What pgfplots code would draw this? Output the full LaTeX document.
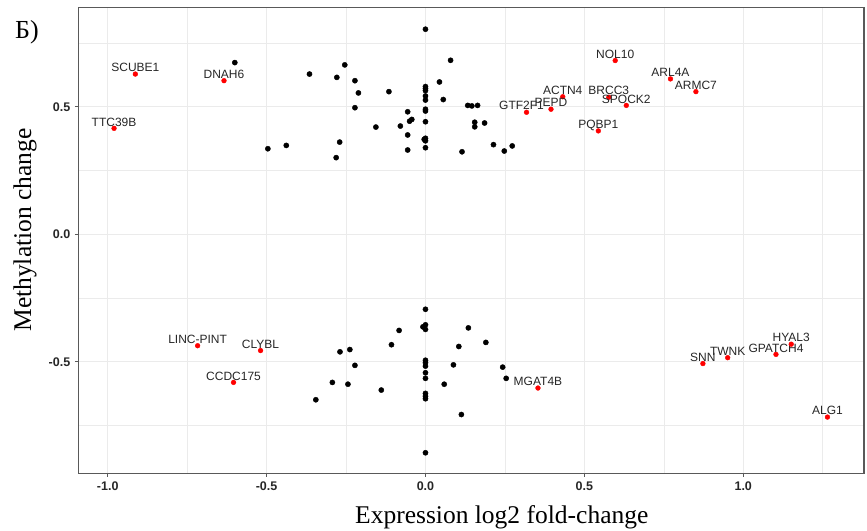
\documentclass[border=0pt]{standalone}
\usepackage{pgfplots}
\pgfplotsset{compat=1.18}
\usepackage{pgfplotstable}
\usepackage{fontspec}
\setmainfont{Liberation Serif}
\newfontfamily\sansf{Liberation Sans}
\tikzset{lbl/.style={anchor=base, inner sep=0pt, yshift=2.3pt,
    font=\sansf\fontsize{12}{14}\selectfont, text=black!85}}

\pgfplotstableread{
x y
0.000 0.805
-0.600 0.674
0.079 0.683
-0.254 0.665
-0.365 0.629
-0.279 0.616
-0.222 0.603
0.044 0.598
-0.211 0.555
-0.115 0.560
0.000 0.580
0.000 0.572
0.000 0.564
0.000 0.543
0.000 0.527
0.056 0.529
-0.222 0.497
0.000 0.491
0.000 0.484
-0.056 0.481
0.000 0.442
-0.043 0.451
-0.050 0.444
-0.156 0.421
-0.079 0.425
-0.056 0.390
-0.004 0.373
0.000 0.377
0.000 0.367
0.000 0.340
-0.056 0.331
-0.496 0.336
-0.438 0.349
-0.270 0.362
-0.281 0.301
0.133 0.506
0.146 0.504
0.164 0.506
0.155 0.440
0.155 0.422
0.186 0.437
0.214 0.352
0.115 0.324
0.248 0.327
0.273 0.347
0.000 -0.294
-0.008 -0.363
0.000 -0.355
0.000 -0.373
-0.083 -0.377
0.135 -0.367
-0.107 -0.433
0.105 -0.440
-0.269 -0.461
-0.238 -0.452
-0.222 -0.514
0.000 -0.494
0.000 -0.504
0.000 -0.517
0.088 -0.512
0.000 -0.543
0.000 -0.565
-0.293 -0.581
-0.244 -0.588
-0.139 -0.611
0.059 -0.588
0.000 -0.624
0.000 -0.635
0.000 -0.645
-0.345 -0.649
0.113 -0.707
0.000 -0.857
0.190 -0.424
0.243 -0.521
0.254 -0.565
}\blackpts

\pgfplotstableread{
x y label
-0.913 0.629 SCUBE1
-0.634 0.603 DNAH6
-0.980 0.416 TTC39B
0.597 0.682 NOL10
0.771 0.610 ARL4A
0.851 0.560 ARMC7
0.432 0.540 ACTN4
0.577 0.538 BRCC3
0.632 0.506 SPOCK2
0.395 0.491 PEPD
0.544 0.406 PQBP1
-0.717 -0.437 LINC-PINT
-0.519 -0.456 CLYBL
-0.604 -0.581 CCDC175
0.354 -0.603 MGAT4B
0.873 -0.507 SNN
0.951 -0.484 TWNK
1.103 -0.471 GPATCH4
1.151 -0.431 HYAL3
1.265 -0.717 ALG1
}\redpts

\pgfplotstableread{
x y label
0.318 0.479 GTF2F1
}\redshift

\begin{document}
\begin{tikzpicture}[x=1pt,y=1pt]
\path[use as bounding box] (0,0) rectangle (867,530);
\begin{axis}[
  at={(78.3pt,56.7pt)}, anchor=south west,
  width=785.7pt, height=466pt, scale only axis,
  xmin=-1.0925, xmax=1.380, ymin=-0.9376, ymax=0.891,
  clip=false,
  axis line style={black!65, line width=1.2pt},
  tick align=outside, xtick pos=left, ytick pos=left,
  major tick length=3.5pt, minor tick length=0pt,
  tick style={black!65, line width=0.9pt},
  xtick={-1,-0.5,0,0.5,1},
  xticklabels={-1.0,-0.5,0.0,0.5,1.0},
  ytick={-0.5,0,0.5},
  yticklabels={-0.5,0.0,0.5},
  minor xtick={-0.75,-0.25,0.25,0.75,1.25},
  minor ytick={-0.75,-0.25,0.25,0.75},
  grid=both,
  major grid style={black!8, line width=1.1pt},
  minor grid style={black!8, line width=0.6pt},
  ticklabel style={font=\sansf\bfseries\fontsize{12.5}{14}\selectfont, text=black!85},
  xticklabel style={yshift=-1pt},
  yticklabel style={xshift=-1pt},
]
\addplot[only marks, mark=*, mark size=2.6pt, mark options={fill=black, draw=black}] table[x=x,y=y] {\blackpts};
\addplot[only marks, mark=*, mark size=2.4pt, mark options={fill=red, draw=red},
  point meta=explicit symbolic,
  nodes near coords,
  nodes near coords style={lbl},
] table[x=x,y=y,meta=label] {\redpts};
\addplot[only marks, mark=*, mark size=2.4pt, mark options={fill=red, draw=red},
  point meta=explicit symbolic,
  nodes near coords,
  nodes near coords style={lbl, xshift=-5pt},
] table[x=x,y=y,meta=label] {\redshift};
\end{axis}
\node[anchor=base west, inner sep=0pt, font=\fontsize{25.5}{28}\selectfont] at (355,7) {Expression log2 fold-change};
\node[rotate=90, anchor=center, inner sep=0pt, font=\fontsize{25.5}{28}\selectfont] at (25,300) {Methylation change};
\node[anchor=base west, inner sep=0pt, font=\fontsize{26}{28}\selectfont] at (15,491) {Б)};
\end{tikzpicture}
\end{document}
